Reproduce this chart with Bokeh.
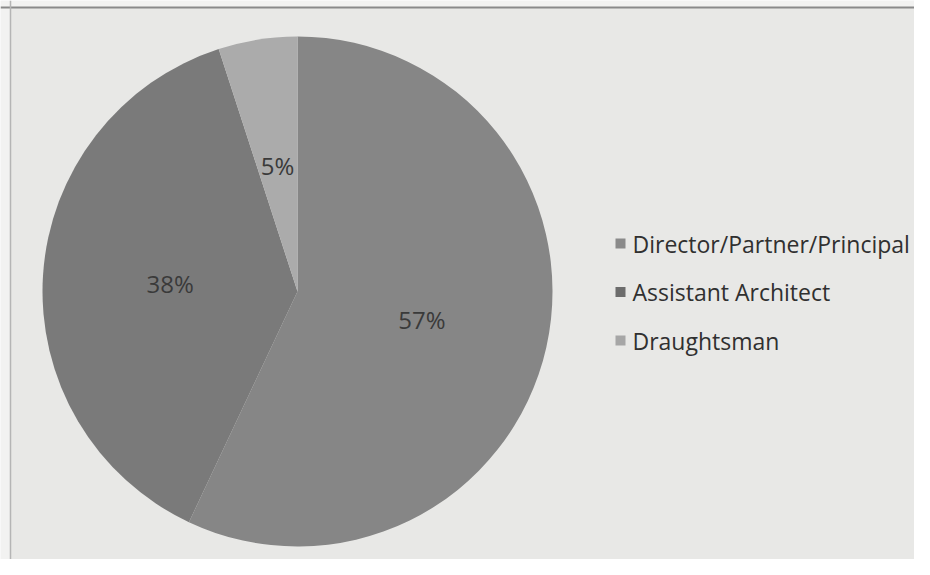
import math
from bokeh.plotting import figure
from bokeh.models import Range1d, ColumnDataSource, Span
from bokeh.core.properties import value
from bokeh.embed import file_html
from bokeh.resources import INLINE

categories = ["Director/Partner/Principal", "Assistant Architect", "Draughtsman"]
shares = [57, 38, 5]
slice_colors = ["#868686", "#7a7a7a", "#ababab"]
legend_colors = ["#8a8a8a", "#6c6c6c", "#a6a6a6"]

W, H = 914, 559
cx, cy, R = 297, H - 291, 255
label_r = 0.5 * R

total = sum(shares)
starts, ends, lx, ly, labels = [], [], [], [], []
cum = 0.0
for s in shares:
    f0 = cum / total
    f1 = (cum + s) / total
    starts.append(math.pi / 2 - f1 * 2 * math.pi)
    ends.append(math.pi / 2 - f0 * 2 * math.pi)
    mid = math.pi / 2 - (f0 + f1) / 2 * 2 * math.pi
    lx.append(cx + label_r * math.cos(mid))
    ly.append(cy + label_r * math.sin(mid))
    labels.append(f"{s}%")
    cum += s

p = figure(width=W, height=H, output_backend="svg", toolbar_location=None,
           x_range=Range1d(0, W), y_range=Range1d(0, H),
           x_axis_location=None, y_axis_location=None, min_border=0)
p.xgrid.visible = False
p.ygrid.visible = False
p.background_fill_color = "#f2f2f1"
p.border_fill_color = "#f2f2f1"
p.outline_line_color = None

# chart area panel
p.quad(left=10, right=W, bottom=0, top=H - 7, fill_color="#e8e8e6", line_color=None)
p.add_layout(Span(location=H - 7, dimension="width", line_color="#8a8a8a", line_width=2))
p.add_layout(Span(location=10, dimension="height", line_color="#b5b5b5", line_width=1.5))

src = ColumnDataSource(dict(start=starts, end=ends, color=slice_colors))
p.wedge(x=cx, y=cy, radius=R, start_angle="start", end_angle="end",
        fill_color="color", line_color=None, source=src)

p.text(x=lx, y=ly, text=labels, text_align="center", text_baseline="middle",
       text_font=value("Open Sans"), text_font_size="24px", text_color="#3a3a3a")

leg_y = [H - 243 - 48.5 * i for i in range(len(categories))]
p.rect(x=[620] * len(categories), y=leg_y, width=10, height=10,
       fill_color=legend_colors, line_color=None)
p.text(x=[632] * len(categories), y=leg_y, text=categories, text_align="left",
       text_baseline="middle", text_font=value("Open Sans"),
       text_font_size="23px", text_color="#303030")

open("out.html", "w").write(file_html(p, INLINE))
